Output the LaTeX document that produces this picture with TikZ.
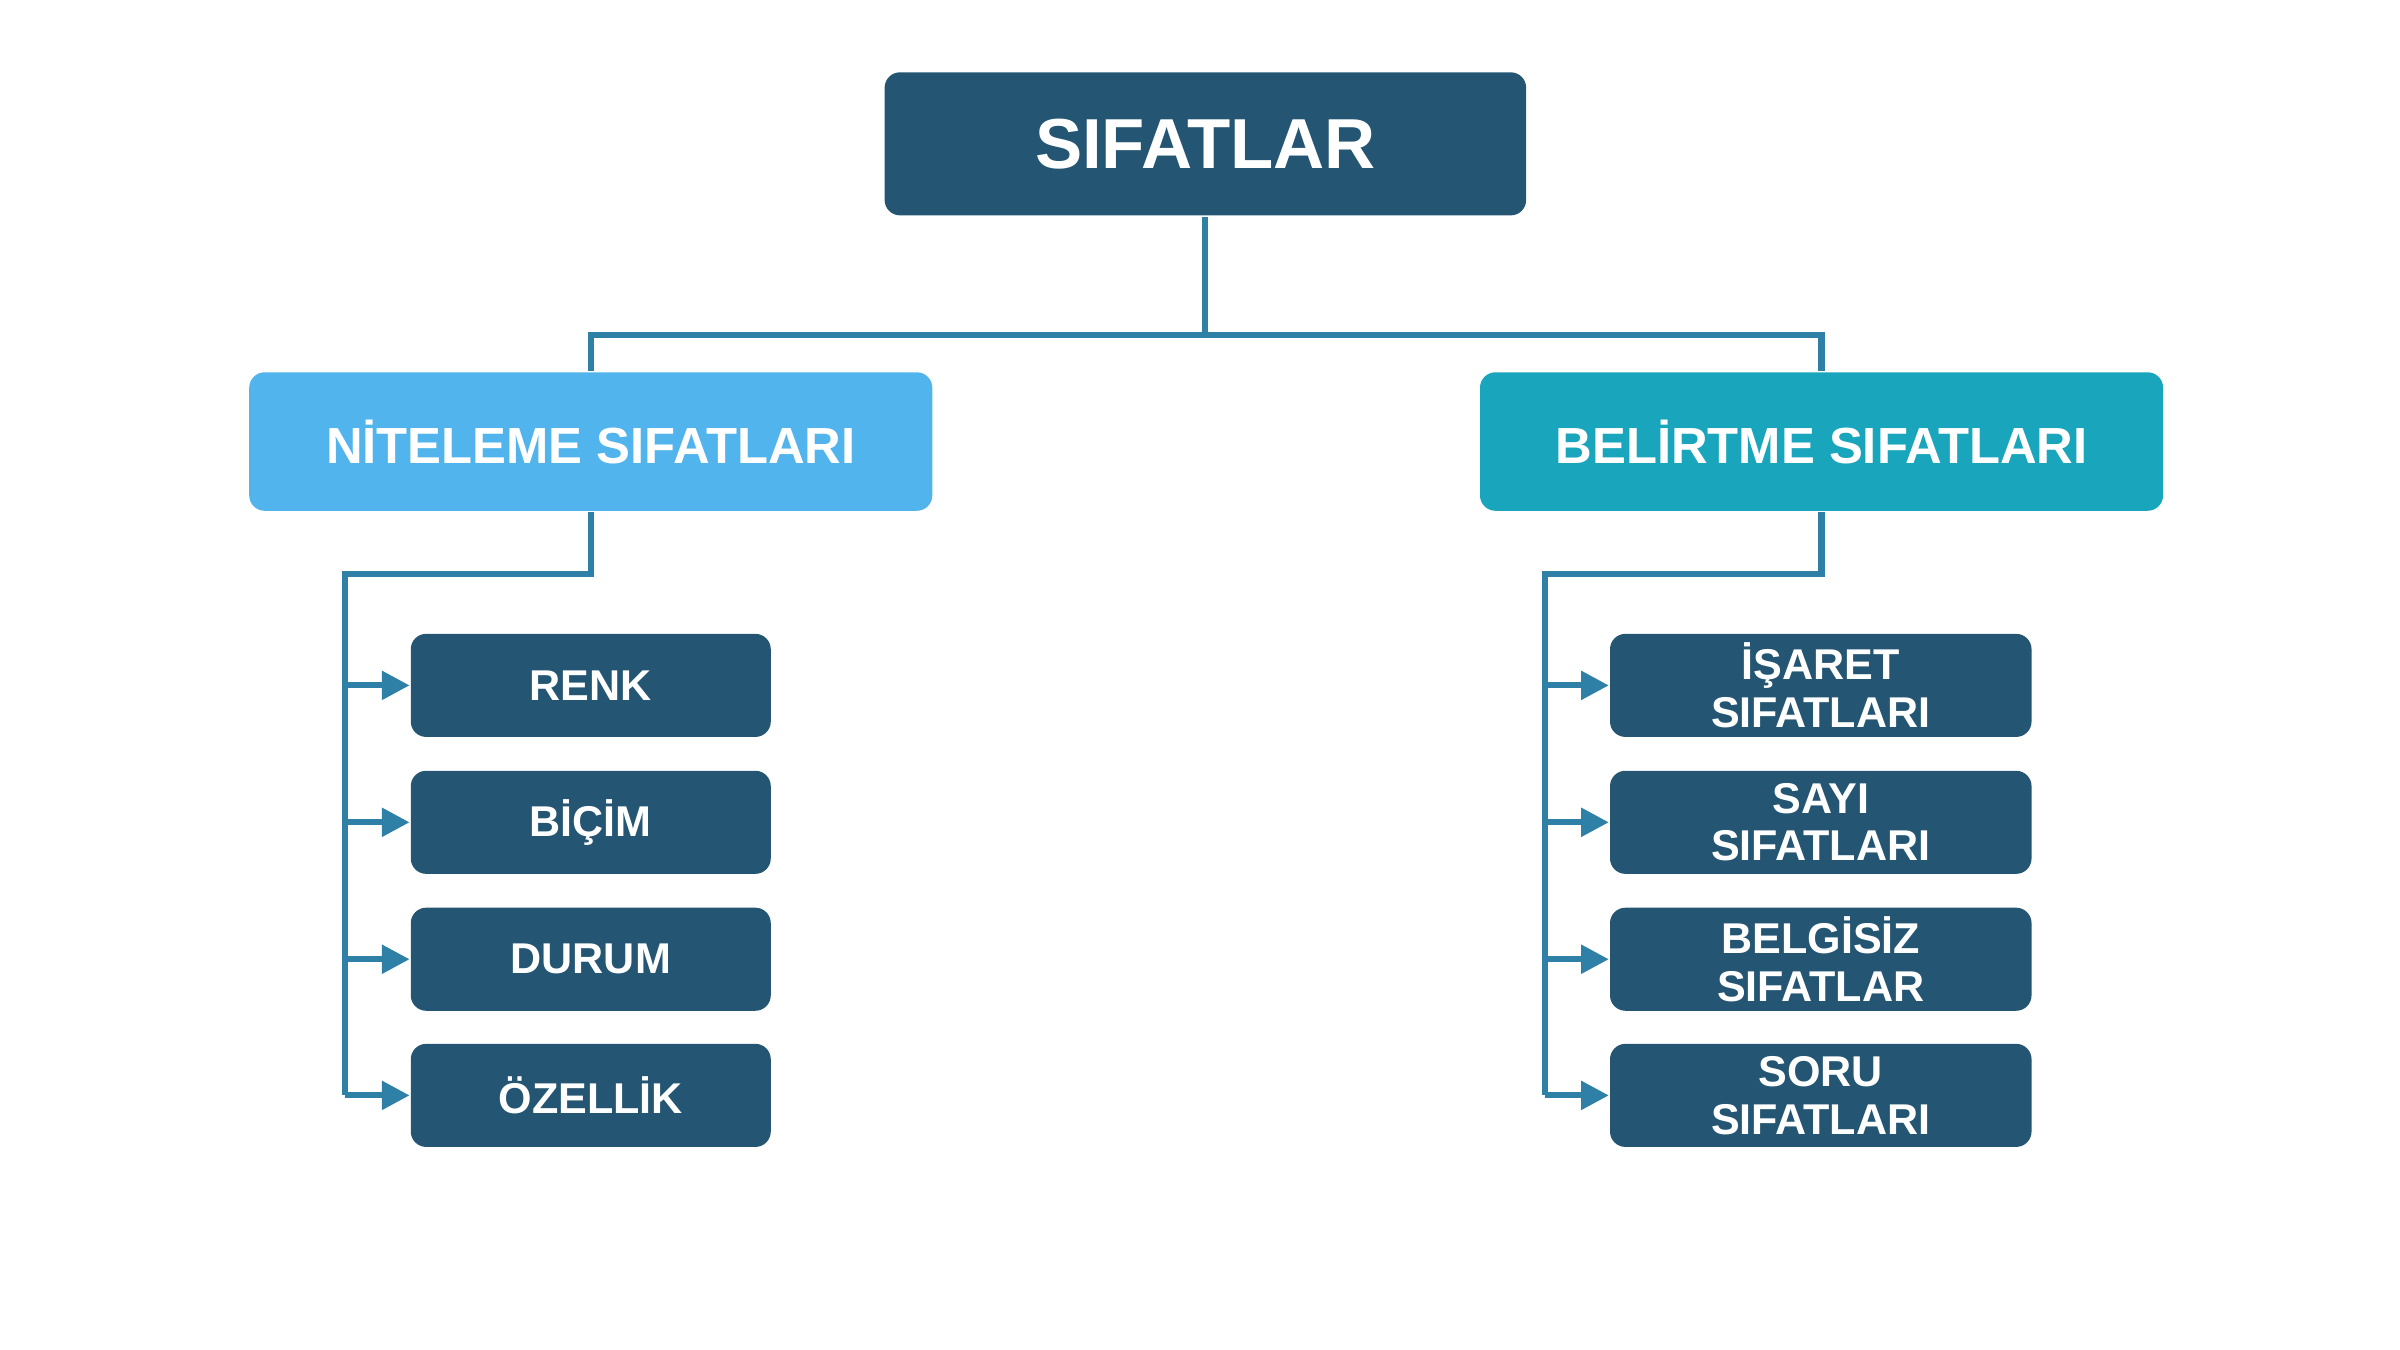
\documentclass[tikz,border=0pt]{standalone}
\usepackage{fontspec}
\setmainfont{Liberation Sans}
\usetikzlibrary{arrows.meta}
\definecolor{koyu}{RGB}{36,85,114}
\definecolor{acik}{RGB}{82,180,236}
\definecolor{turkuaz}{RGB}{25,165,187}
\definecolor{hat}{RGB}{46,128,166}
\tikzset{every picture/.style={line width=0.75pt}}
\tikzset{
  kutu/.style={rounded corners=5pt, text=white, font=\bfseries, align=center, inner sep=0pt},
  alt/.style={kutu, fill=koyu, minimum width=117pt, minimum height=33.5pt, font=\bfseries\fontsize{14}{15.5}\selectfont},
  bag/.style={draw=hat, line width=2pt},
  ok/.style={bag, -{Triangle[length=9pt,width=9pt]}}
}
\begin{document}
\begin{tikzpicture}[x=0.5pt,y=0.5pt,yscale=-1,xscale=1]
\useasboundingbox (0,0) rectangle (1560,877.5);

%Shape: Rectangle (top)
\node[kutu, fill=koyu, minimum width=208.5pt, minimum height=46.5pt, font=\bfseries\fontsize{23}{26}\selectfont] (sifat) at (783.5,93.5) {SIFATLAR};
%Shape: Rectangle (level 2)
\node[kutu, fill=acik, minimum width=222pt, minimum height=45pt, font=\bfseries\fontsize{16.5}{18}\selectfont] (nit) at (384,287) {NİTELEME SIFATLARI};
\node[kutu, fill=turkuaz, minimum width=222pt, minimum height=45pt, font=\bfseries\fontsize{16.5}{18}\selectfont] (bel) at (1184,287) {BELİRTME SIFATLARI};

%Shape: Rectangle (left leaves)
\node[alt] (renk) at (384,445.5) {RENK};
\node[alt] (bicim) at (384,534.5) {BİÇİM};
\node[alt] (durum) at (384,623.5) {DURUM};
\node[alt] (ozel) at (384,712) {ÖZELLİK};
%Shape: Rectangle (right leaves)
\node[alt, minimum width=137pt] (isaret) at (1183.5,445.5) {İŞARET\\SIFATLARI};
\node[alt, minimum width=137pt] (sayi) at (1183.5,534.5) {SAYI\\SIFATLARI};
\node[alt, minimum width=137pt] (belgi) at (1183.5,623.5) {BELGİSİZ\\SIFATLAR};
\node[alt, minimum width=137pt] (soru) at (1183.5,712) {SORU\\SIFATLARI};

%Straight Lines
\draw[bag] (sifat.south) -- (783.5,218) -| (nit.north);
\draw[bag] (783.5,218) -| (bel.north);
\coordinate (solk) at (224,373);
\coordinate (sagk) at (1004,373);
\draw[bag] (nit.south) |- (solk) -- (224,712);
\draw[bag] (bel.south) |- (sagk) -- (1004,712);
%Arrows
\foreach \n in {renk,bicim,durum,ozel}
  \draw[ok] (224,0 |- \n.west) -- (\n.west);
\foreach \n in {isaret,sayi,belgi,soru}
  \draw[ok] (1004,0 |- \n.west) -- (\n.west);
\end{tikzpicture}
\end{document}
